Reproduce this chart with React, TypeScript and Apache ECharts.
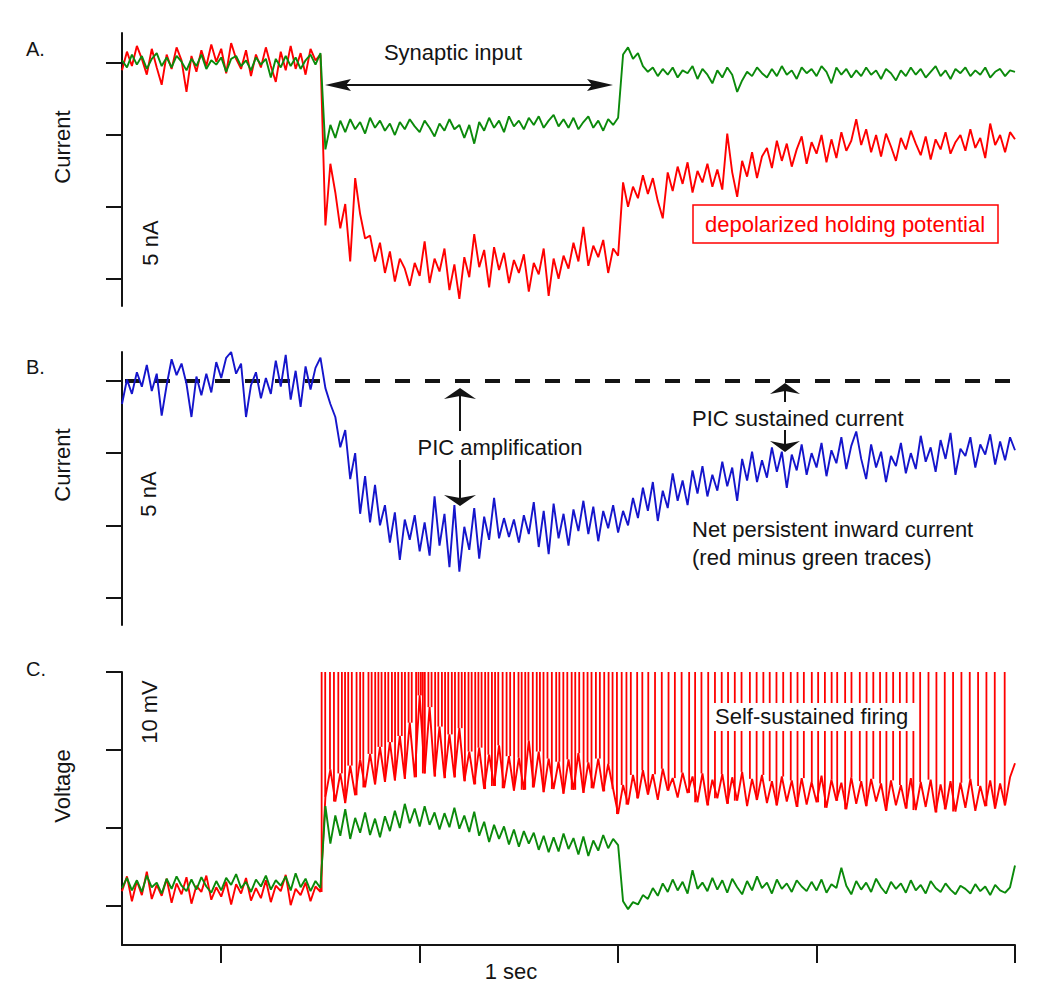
import React, { useEffect, useRef } from "react";
import * as echarts from "echarts";

// time base (ms): samples every 12.5 ms from 0 to 2250 ms
const SAMPLE_MS = 12.5;
const X_MAX = 2250;
const TIME_TICKS = [250, 750, 1250, 1750, 2250];
const CURRENT_TICKS = [-15, -10, -5, 0];
const VOLTAGE_TICKS = [0, 10, 20, 30];
const SPIKE_PEAK = 30;
const PIC_BASELINE = 0;

// Panel A: holding current (nA)
const greenA = [
  0.2, -0.3, 0.6, -0.1, 0.5, -0.4, 0.3, 0.7, -0.2, 0.4,
  -0.3, 0.5, 0.1, -0.5, 0.3, -0.2, 0.6, -0.4, 0.2, -0.1,
  0.4, -0.6, 0.3, 0.5, -0.2, 0.2, -0.5, 0.4, -0.1, 0.3,
  -1.0, 0.3, -0.3, 0.5, -0.2, 0.4, -0.4, 0.2, 0.6, -0.1,
  0.7, -6.0, -4.3, -5.2, -4.0, -4.8, -3.9, -4.6, -4.1, -4.9,
  -3.8, -4.5, -4.0, -4.7, -4.2, -5.0, -4.1, -4.6, -3.9, -4.4,
  -4.8, -4.0, -4.5, -5.1, -4.2, -4.7, -3.9, -4.6, -4.3, -5.2,
  -4.3, -5.6, -4.1, -4.7, -3.8, -4.5, -4.0, -4.8, -3.7, -4.4,
  -4.0, -4.6, -3.8, -4.3, -3.7, -4.5, -4.0, -3.6, -4.4, -3.9,
  -4.5, -3.8, -4.6, -4.1, -3.7, -4.5, -4.0, -4.7, -3.9, -4.3,
  -3.8, 0.6, 1.1, 0.3, 0.7, -0.2, -0.6, -0.3, -0.9, -0.4,
  -0.8, -0.3, -1.0, -0.5, -0.7, -0.2, -1.1, -0.4, -0.8, -1.4,
  -0.5, -1.0, -0.3, -0.8, -2.0, -1.2, -0.6, -0.9, -0.3, -0.7,
  -1.0, -0.4, -0.9, -0.2, -0.8, -0.5, -1.1, -0.3, -0.7, -0.4,
  -0.9, -0.2, -0.6, -1.4, -0.3, -0.8, -0.4, -1.0, -0.5, -0.9,
  -0.3, -0.8, -0.5, -1.1, -0.4, -0.7, -1.2, -0.5, -0.9, -0.3,
  -0.8, -0.4, -1.0, -0.6, -0.2, -0.9, -0.5, -1.1, -0.4, -0.7,
  -0.3, -0.9, -0.5, -0.8, -0.3, -1.0, -0.6, -0.4, -0.9, -0.5, -0.6,
];

const redA = [
  -0.5, 0.8, -0.2, 1.2, 0.3, -0.8, 1.0, -0.3, -1.5, 0.6,
  -0.4, 1.1, 0.2, -2.0, 0.5, -0.6, 0.9, -0.2, 1.3, 0.1,
  1.0, -0.7, 1.4, 0.3, -0.4, 0.9, -0.9, 0.6, -0.3, 1.1,
  -0.2, -1.3, 0.8, -0.5, 1.2, -0.4, 0.7, -0.8, 1.0, 0.2,
  0.6, -11.3, -7.0, -9.0, -11.5, -9.8, -13.8, -8.0, -10.5, -12.2,
  -12.0, -13.8, -12.5, -14.6, -13.1, -15.2, -13.6, -14.3, -15.5, -13.9,
  -14.8, -12.4, -15.3, -13.6, -14.5, -12.9, -15.8, -14.0, -16.4, -13.5,
  -14.9, -11.9, -14.2, -13.0, -15.6, -12.8, -14.4, -13.2, -15.3, -13.7,
  -14.6, -13.3, -15.9, -13.9, -14.7, -12.9, -16.2, -13.6, -15.0, -13.4,
  -14.3, -12.5, -13.8, -11.4, -14.1, -12.7, -13.5, -12.3, -14.6, -12.9,
  -13.4, -8.3, -10.0, -8.6, -9.4, -7.8, -9.1, -8.0, -9.6, -10.8,
  -7.6, -8.9, -7.2, -8.4, -6.9, -9.0, -7.5, -8.3, -7.0, -8.6,
  -7.4, -8.8, -4.9, -7.6, -9.3, -6.8, -7.9, -6.2, -8.0, -6.5,
  -5.9, -7.3, -5.4, -6.8, -5.6, -7.2, -6.0, -5.1, -7.0, -5.5,
  -6.3, -5.0, -6.9, -5.3, -6.6, -4.8, -6.1, -5.4, -3.9, -5.7,
  -4.6, -6.2, -5.0, -6.5, -4.9, -5.8, -6.8, -5.2, -6.0, -4.7,
  -5.6, -6.4, -5.1, -6.7, -5.3, -6.0, -4.8, -6.3, -5.5, -5.0,
  -6.1, -4.6, -5.9, -5.2, -6.6, -4.2, -5.7, -5.0, -6.2, -4.8, -5.3,
];

// Panel B: net persistent inward current (nA)
const blueB = [
  -1.6, 0.1, -0.9, 0.6, -0.4, 1.1, -0.7, 0.5, -2.4, -0.3,
  1.5, 0.4, 1.2, -0.2, -2.5, 0.3, -1.0, 0.5, -0.8, 1.3,
  0.2, 1.6, 2.0, 0.5, 1.2, -2.5, -0.3, 0.6, -1.2, 0.2,
  -0.9, 1.4, -0.4, 1.8, -1.3, 0.7, -1.8, 1.0, -0.6, 0.9,
  1.6, -0.5, -1.6, -2.5, -4.6, -3.4, -6.8, -5.0, -9.2, -6.6,
  -9.8, -7.2, -10.0, -8.6, -11.2, -9.1, -12.4, -9.6, -11.0, -9.3,
  -11.8, -9.8, -12.1, -8.0, -11.4, -9.2, -12.9, -8.6, -13.2, -10.1,
  -11.7, -8.8, -12.3, -9.4, -11.0, -8.1, -10.9, -9.5, -10.8, -9.6,
  -11.2, -9.3, -10.6, -8.4, -11.5, -9.0, -12.0, -8.5, -10.9, -9.2,
  -11.4, -8.9, -10.4, -8.3, -10.6, -8.7, -11.1, -9.0, -10.2, -8.6,
  -10.5, -9.0, -10.0, -8.1, -9.5, -7.4, -9.0, -7.0, -9.7, -7.6,
  -8.8, -6.4, -8.3, -6.9, -8.6, -6.2, -7.8, -5.9, -8.0, -6.5,
  -7.6, -5.6, -7.3, -6.0, -8.3, -5.4, -6.9, -4.9, -7.0, -5.5,
  -6.7, -4.6, -6.3, -4.9, -7.4, -5.1, -6.2, -4.4, -6.5, -5.0,
  -6.0, -4.3, -6.6, -4.8, -5.7, -3.9, -6.1, -4.5, -3.5, -5.4,
  -6.8, -4.4, -6.0, -4.9, -7.0, -5.2, -5.9, -4.3, -6.4, -5.0,
  -6.1, -3.8, -5.6, -4.6, -6.3, -4.1, -5.4, -3.6, -6.5, -4.7,
  -5.2, -3.9, -6.0, -4.4, -5.1, -3.7, -5.8, -4.2, -5.5, -3.9, -4.8,
];

// Panel C: membrane voltage (mV, relative)
const greenC = [
  2.3, 3.6, 2.0, 3.3, 1.8, 3.9, 2.4, 3.0, 1.6, 3.5,
  2.2, 3.8, 2.6, 1.9, 3.4, 2.1, 3.7, 2.5, 1.7, 3.2,
  2.0, 3.6, 2.7, 4.1, 2.3, 3.1, 1.8, 3.4, 2.5, 3.9,
  2.1, 3.3, 2.6, 3.8, 2.0, 4.2, 2.4, 3.5, 1.9, 3.2,
  2.3, 12.8, 8.0, 11.6, 9.0, 12.4, 8.6, 11.3, 9.4, 12.0,
  9.1, 11.2, 8.8, 11.5, 9.6, 12.2, 10.0, 13.1, 10.6, 12.5,
  10.2, 12.8, 10.4, 12.0, 9.8, 11.9, 10.1, 12.6, 9.9, 11.6,
  9.5, 12.1, 9.0, 10.8, 8.2, 10.4, 8.6, 10.2, 7.9, 9.8,
  7.6, 9.6, 8.0, 9.4, 7.2, 9.0, 6.9, 8.8, 7.0, 9.3,
  7.3, 8.7, 6.6, 8.9, 6.4, 8.4, 7.1, 9.1, 7.4, 8.6,
  7.8, 0.6, -0.4, 0.5, 0.2, 1.4, 0.9, 2.3, 1.3, 2.9,
  1.8, 3.4, 2.0, 3.1, 1.6, 4.6, 2.2, 3.0, 1.9, 3.6,
  2.1, 3.3, 1.7, 3.5, 2.4, 1.5, 3.2, 2.0, 3.8, 2.3,
  3.0, 1.6, 3.4, 2.2, 2.9, 1.8, 3.3, 2.5, 1.9, 3.1,
  2.0, 3.4, 1.7, 2.8, 2.3, 4.9, 2.6, 1.5, 3.2, 2.1,
  3.0, 1.8, 3.5, 2.4, 1.6, 3.1, 2.2, 2.9, 1.7, 3.3,
  2.0, 2.7, 1.6, 3.2, 2.3, 1.8, 2.9, 2.1, 1.5, 2.6,
  2.2, 1.6, 2.8, 1.9, 2.5, 1.4, 2.7, 2.0, 1.7, 2.4, 5.2,
];

const redC = [
  1.9, 3.8, 0.6, 3.2, 1.4, 4.4, 0.9, 2.7, 1.3, 3.5,
  0.4, 2.9, 1.5, 3.7, 0.3, 2.6, 1.8, 3.9, 0.8, 2.4,
  1.2, 3.1, 0.2, 2.8, 1.6, 3.6, 0.7, 2.3, 1.0, 3.3,
  0.5, 2.6, 1.9, 4.0, 0.1, 2.2, 1.4, 3.0, 0.6, 2.5,
  1.8, 14.0, 17.5, 13.4, 17.0, 13.2, 18.0, 14.2, 18.8, 15.2,
  19.5, 15.6, 20.4, 15.9, 21.0, 16.1, 21.8, 16.3, 23.5, 16.5,
  27.0, 17.0, 25.5, 16.6, 23.0, 16.4, 22.0, 16.5, 22.8, 16.0,
  19.8, 15.6, 20.3, 15.0, 19.4, 15.4, 20.6, 15.1, 19.2, 14.8,
  19.0, 14.9, 21.2, 15.2, 19.8, 14.6, 18.9, 15.0, 18.5, 14.4,
  18.8, 14.9, 19.6, 14.5, 18.4, 15.1, 18.9, 14.7, 18.2, 15.0,
  11.8, 15.5, 13.0, 16.8, 13.8, 17.4, 14.3, 16.9, 13.6, 17.6,
  14.8, 16.4, 13.9, 17.1, 14.5, 16.6, 13.3, 17.0, 12.9, 16.2,
  13.8, 16.9, 13.1, 16.5, 13.5, 17.2, 12.8, 16.3, 13.6, 16.8,
  13.2, 16.0, 12.9, 16.6, 13.4, 16.1, 12.7, 16.4, 13.0, 15.9,
  13.3, 16.7, 12.6, 16.2, 13.5, 15.8, 12.4, 16.5, 13.1, 16.0,
  12.8, 16.3, 13.4, 15.7, 12.2, 16.1, 12.9, 15.5, 12.5, 16.4,
  12.3, 15.9, 12.7, 16.2, 12.0, 15.6, 12.4, 16.0, 12.1, 15.8,
  12.6, 16.3, 12.2, 15.4, 12.8, 16.1, 12.5, 15.7, 12.9, 16.5, 18.3,
];

// action potential times (ms)
const spikeTimes = [
  503, 512, 524, 534, 545, 554, 562, 570, 579, 591, 600, 608, 621, 629, 638,
  646, 654, 663, 671, 680, 688, 696, 705, 713, 722, 730, 741, 747, 753, 758,
  763, 772, 780, 789, 797, 806, 814, 822, 831, 839, 848, 856, 864, 873, 881,
  890, 898, 906, 915, 923, 932, 940, 948, 959, 969, 978, 988, 999, 1007, 1016,
  1024, 1035, 1045, 1053, 1062, 1072, 1083, 1094, 1102, 1112, 1122, 1133, 1142,
  1152, 1163, 1173, 1183, 1194, 1204, 1215, 1226, 1236, 1247,
  1259, 1271, 1282, 1298, 1311, 1326, 1343, 1360, 1377, 1393, 1410, 1429, 1444,
  1460, 1477, 1494, 1511, 1527, 1544, 1561, 1582, 1599, 1616, 1632, 1649, 1666,
  1685, 1702, 1718, 1738, 1754, 1771, 1788, 1802, 1822, 1838, 1859, 1876, 1893,
  1910, 1926, 1943, 1960, 1977, 1994, 2011, 2032, 2052, 2073, 2094, 2115, 2136,
  2157, 2178, 2199, 2224,
];

const RED = "#ff0000";
const GREEN = "#0b8a0b";
const BLUE = "#1515cc";
const INK = "#141414";
const FONT = "'Liberation Sans', Arial, sans-serif";
const TRACE_WIDTH = 1.9;

const toSeries = (arr: number[]) => arr.map((v, i) => [i * SAMPLE_MS, v]);

function yAxisFor(gridIndex: number, min: number, max: number, ticks: number[]) {
  return {
    type: "value",
    gridIndex,
    min,
    max,
    axisLine: { show: true, onZero: false, lineStyle: { color: INK, width: 2 } },
    axisTick: { show: true, customValues: ticks, length: 16, lineStyle: { color: INK, width: 2 } },
    axisLabel: { show: false },
    splitLine: { show: false },
  };
}

function txt(text: string, x: number, y: number, opts: any = {}) {
  return {
    type: "text",
    x,
    y,
    z: 101,
    rotation: opts.rotation || 0,
    style: {
      text,
      fill: opts.fill || INK,
      font: `${opts.size || 22}px ${FONT}`,
      textAlign: opts.align || "center",
      textVerticalAlign: "middle",
    },
  };
}

function seg(x1: number, y1: number, x2: number, y2: number) {
  return {
    type: "line",
    z: 100,
    shape: { x1, y1, x2, y2 },
    style: { stroke: INK, lineWidth: 2 },
  };
}

function head(points: number[][]) {
  return { type: "polygon", z: 100, shape: { points }, style: { fill: INK } };
}

export default function App() {
  const ref = useRef<HTMLDivElement>(null);

  useEffect(() => {
    if (!ref.current) return;
    const chart = echarts.init(ref.current, undefined, { renderer: "svg" });

    const line = (data: any[], color: string, xi: number) => ({
      type: "line",
      xAxisIndex: xi,
      yAxisIndex: xi,
      data,
      showSymbol: false,
      symbol: "none",
      silent: true,
      lineStyle: { color, width: TRACE_WIDTH },
    });

    const spikeData = spikeTimes.map((t) => [
      t,
      redC[Math.min(redC.length - 1, Math.round(t / SAMPLE_MS))],
    ]);

    const hiddenX = (gridIndex: number) => ({
      type: "value",
      gridIndex,
      min: 0,
      max: X_MAX,
      show: false,
    });

    chart.setOption({
      animation: false,
      backgroundColor: "#ffffff",
      grid: [
        { left: 122, top: 33, width: 893, height: 273 },
        { left: 122, top: 352, width: 893, height: 273 },
        { left: 122, top: 672, width: 893, height: 273 },
      ],
      xAxis: [
        hiddenX(0),
        hiddenX(1),
        {
          type: "value",
          gridIndex: 2,
          min: 0,
          max: X_MAX,
          axisLine: { show: true, onZero: false, lineStyle: { color: INK, width: 2 } },
          axisTick: { show: true, customValues: TIME_TICKS, length: 18, lineStyle: { color: INK, width: 2 } },
          axisLabel: { show: false },
          splitLine: { show: false },
        },
      ],
      yAxis: [
        yAxisFor(0, -16.9, 2.1, CURRENT_TICKS),
        yAxisFor(1, -16.9, 2.0, CURRENT_TICKS),
        yAxisFor(2, -5, 30, VOLTAGE_TICKS),
      ],
      series: [
        line(toSeries(redA), RED, 0),
        line(toSeries(greenA), GREEN, 0),
        {
          type: "line",
          xAxisIndex: 1,
          yAxisIndex: 1,
          data: [
            [0, PIC_BASELINE],
            [X_MAX, PIC_BASELINE],
          ],
          showSymbol: false,
          symbol: "none",
          silent: true,
          lineStyle: { color: INK, width: 4, type: [15, 15], dashOffset: -3 },
        },
        line(toSeries(blueB), BLUE, 1),
        line(toSeries(redC), RED, 2),
        {
          type: "custom",
          xAxisIndex: 2,
          yAxisIndex: 2,
          data: spikeData,
          silent: true,
          renderItem: (_params: any, api: any) => {
            const t = api.value(0);
            const a = api.coord([t, api.value(1)]);
            const b = api.coord([t, SPIKE_PEAK]);
            return {
              type: "line",
              shape: { x1: a[0], y1: a[1], x2: b[0], y2: b[1] },
              style: { stroke: RED, lineWidth: 1.8 },
            };
          },
        },
        line(toSeries(greenC), GREEN, 2),
      ],
      graphic: [
        txt("A.", 26, 49, { align: "left", size: 20 }),
        txt("B.", 26, 367, { align: "left", size: 20 }),
        txt("C.", 26, 669, { align: "left", size: 20 }),
        txt("Current", 62, 147, { rotation: Math.PI / 2 }),
        txt("Current", 62, 465, { rotation: Math.PI / 2 }),
        txt("Voltage", 62, 786, { rotation: Math.PI / 2 }),
        txt("5 nA", 150, 243, { rotation: Math.PI / 2 }),
        txt("5 nA", 148, 494, { rotation: Math.PI / 2 }),
        txt("10 mV", 149, 712, { rotation: Math.PI / 2 }),
        txt("Synaptic input", 453, 52),
        seg(342, 85, 596, 85),
        head([[325, 85], [351, 79], [346, 85], [351, 91]]),
        head([[613, 85], [587, 79], [592, 85], [587, 91]]),
        {
          type: "rect",
          z: 100,
          shape: { x: 693, y: 205, width: 305, height: 38 },
          style: { fill: "#ffffff", stroke: RED, lineWidth: 1.5 },
        },
        txt("depolarized holding potential", 845, 224, { fill: RED }),
        txt("PIC amplification", 500, 447),
        seg(460, 396, 460, 431),
        head([[460, 388], [476, 399], [460, 396], [444, 399]]),
        seg(460, 460, 460, 498),
        head([[460, 506], [476, 495], [460, 498], [444, 495]]),
        txt("PIC sustained current", 692, 418, { align: "left" }),
        seg(785, 391, 785, 402),
        head([[785, 383], [800, 394], [785, 391], [770, 394]]),
        seg(785, 430, 785, 444),
        head([[785, 452], [800, 441], [785, 444], [770, 441]]),
        txt("Net persistent inward current", 692, 529, { align: "left" }),
        txt("(red minus green traces)", 692, 557, { align: "left" }),
        {
          type: "rect",
          z: 100,
          shape: { x: 712, y: 703, width: 207, height: 28 },
          style: { fill: "#ffffff" },
        },
        txt("Self-sustained firing", 715, 716, { align: "left" }),
        txt("1 sec", 511, 971),
      ],
    });

    return () => chart.dispose();
  }, []);

  return (
    <div
      ref={ref}
      style={{ position: "absolute", left: 0, top: 0, width: 1050, height: 996 }}
    />
  );
}
